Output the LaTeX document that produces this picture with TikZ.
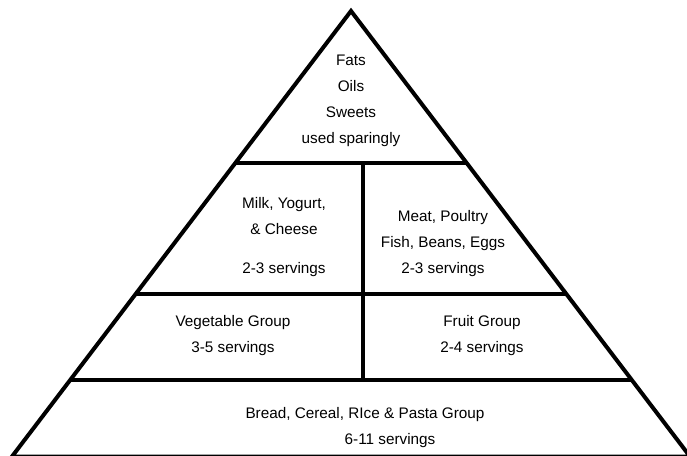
\documentclass[tikz,border=0pt]{standalone}
\usepackage{fontspec}
\setmainfont{Liberation Sans}
\usetikzlibrary{calc}
\tikzset{
  tierline/.style={line width=4pt},
  food/.style={font=\fontsize{15.3}{26}\selectfont, align=center, inner sep=0pt}
}

\begin{document}
\begin{tikzpicture}[x=1pt,y=-1pt]
    \useasboundingbox (0,0) rectangle (687,455);
    \clip (0,0) rectangle (687,455); % Clips the base corners...

    \coordinate (apex) at (351,11);
    \coordinate (bl) at (12,456.5);
    \coordinate (br) at (690,456.5);
    % shelf ends on the two sides
    \coordinate (t1l) at ($(apex)!0.3412!(bl)$);
    \coordinate (t1r) at ($(apex)!0.3412!(br)$);
    \coordinate (t2l) at ($(apex)!0.6352!(bl)$);
    \coordinate (t2r) at ($(apex)!0.6352!(br)$);
    \coordinate (t3l) at ($(apex)!0.8283!(bl)$);
    \coordinate (t3r) at ($(apex)!0.8283!(br)$);
    \coordinate (divtop) at (363,163);
    \coordinate (divbot) at (363,380);

    \draw[tierline] (apex) -- (bl) -- (br) -- cycle;
    \draw[tierline] (t1l) -- (t1r);
    \draw[tierline] (t2l) -- (t2r);
    \draw[tierline] (t3l) -- (t3r);
    \draw[tierline] (divtop) -- (divbot);

    \node[food] (fats) at (351,100.5) {Fats\\Oils\\Sweets\\used sparingly};
    \node[food] (milk) at (284,237.5) {Milk, Yogurt,\\\& Cheese\\[13pt]2-3 servings};
    \node[food] (meat) at (443,243.5) {Meat, Poultry\\Fish, Beans, Eggs\\2-3 servings};
    \node[food] (veg) at (233,335.5) {Vegetable Group\\3-5 servings};
    \node[food] (fruit) at (482,335.5) {Fruit Group\\2-4 servings};
    \node[food] (bread) at (365,414.5) {Bread, Cereal, RIce \& Pasta Group};
    \node[food] (breadserv) at (390,440.5) {6-11 servings};
  \end{tikzpicture}
\end{document}
